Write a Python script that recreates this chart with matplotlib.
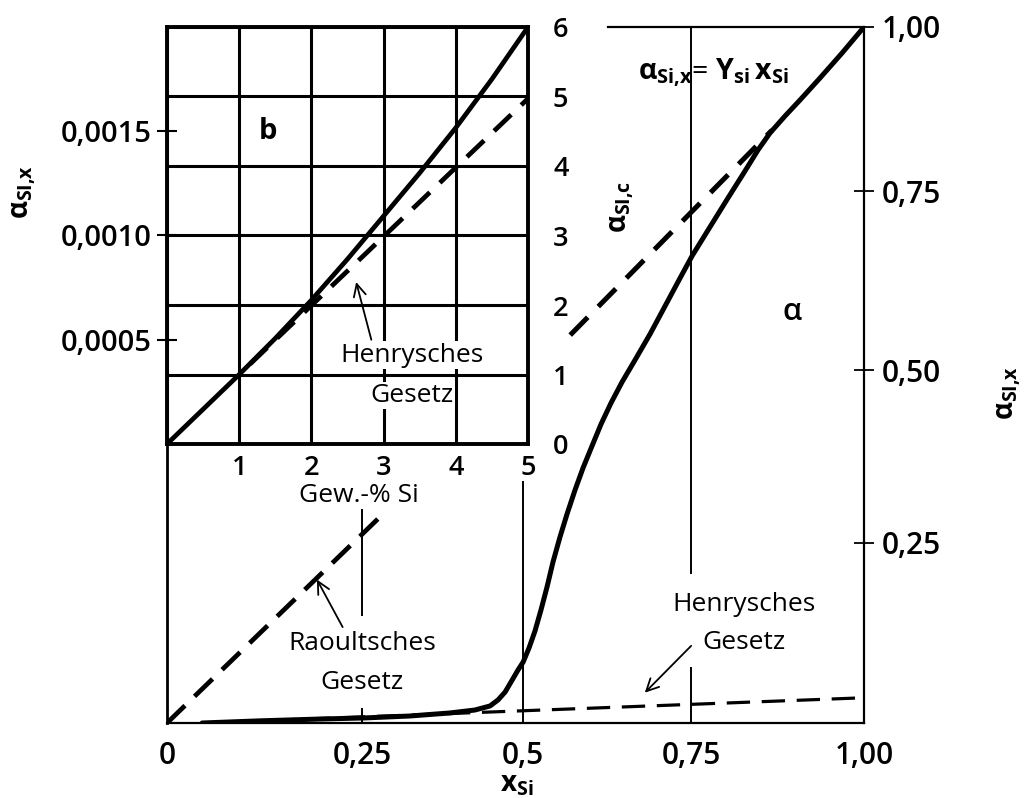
import numpy as np
import matplotlib
matplotlib.use('Agg')
import matplotlib.pyplot as plt

FONT = 'Open Sans'
plt.rcParams['font.family'] = [FONT, 'DejaVu Sans']
plt.rcParams['mathtext.fontset'] = 'custom'
plt.rcParams['mathtext.rm'] = FONT
plt.rcParams['mathtext.it'] = FONT
plt.rcParams['mathtext.bf'] = FONT + ':bold'
plt.rcParams['mathtext.sf'] = FONT
plt.rcParams['lines.scale_dashes'] = False

# ---------------- data ----------------
# main diagram: activity of Si (mole-fraction scale) vs x_Si
x_si = [0.045, 0.119, 0.196, 0.253, 0.324, 0.386, 0.425, 0.4485, 0.461, 0.472,
        0.483, 0.492, 0.500, 0.5087, 0.5176, 0.5265, 0.5355, 0.5444, 0.5548, 0.5653,
        0.5772, 0.5891, 0.6025, 0.616, 0.6308, 0.6472, 0.6665, 0.6889, 0.7112, 0.7336,
        0.7513, 0.7772, 0.8033, 0.8279, 0.8467, 0.864, 0.8858, 0.9075, 0.9364, 0.9682, 1.0]
a_si_x = [0.0, 0.003, 0.0055, 0.007, 0.0097, 0.0139, 0.018, 0.0236, 0.032, 0.043,
          0.0597, 0.0735, 0.0846, 0.104, 0.1276, 0.1567, 0.1886, 0.2233, 0.2583, 0.2916,
          0.3264, 0.3583, 0.3902, 0.422, 0.4525, 0.4828, 0.5142, 0.5505, 0.5896, 0.6288,
          0.6595, 0.700, 0.7406, 0.7808, 0.8128, 0.8386, 0.8645, 0.8889, 0.9224, 0.9603, 1.0]
raoult_x = [0.0, 0.275]
raoult_a = [0.0, 0.285]
henry_x = [0.045, 1.0]
henry_a = [0.0, 0.035]
henry_c_x = [0.570, 0.867]
henry_c_a = [0.549, 0.843]

main_xticks = [0, 0.25, 0.5, 0.75, 1.0]
main_xlabels = ['0', '0,25', '0,5', '0,75', '1,00']
main_yticks = [0.25, 0.5, 0.75, 1.0]
main_ylabels = ['0,25', '0,50', '0,75', '1,00']

# inset b: activity vs Gew.-% Si
gew_si = [0, 0.5, 1, 1.5, 2, 2.5, 3, 3.5, 4, 4.5, 5]
a_si_c = [0, 0.5, 1.0, 1.52, 2.07, 2.66, 3.28, 3.9, 4.55, 5.25, 6.0]
henry_in_x = [1.15, 5.0]
henry_in_a = [1.15, 4.97]

inset_xticks = [0, 1, 2, 3, 4, 5]
inset_xlabels = ['', '1', '2', '3', '4', '5']
inset_cticks = [0, 1, 2, 3, 4, 5, 6]
inset_clabels = ['0', '1', '2', '3', '4', '5', '6']
inset_aticks = [0.0005, 0.0010, 0.0015]
inset_alabels = ['0,0005', '0,0010', '0,0015']

# drawn (hand-made) axis geometry of the original figure
X_TRUE = [0, 0.25, 0.5, 0.75, 1.0]
X_DRAWN = [0, 0.28, 0.511, 0.752, 1.0]
Y_TRUE = [0, 0.25, 0.5, 0.75, 1.0]
Y_DRAWN = [0, 0.259, 0.507, 0.764, 1.0]


def make_funcs(true, drawn):
    t = np.r_[-1.0, true, 2.0]
    d = np.r_[-1.0, drawn, 2.0]
    return (lambda v: np.interp(v, t, d), lambda v: np.interp(v, d, t))


W, H = 1025, 798


def px_axes(l, t, r, b):
    return [l / W, 1 - b / H, (r - l) / W, (b - t) / H]


fig = plt.figure(figsize=(W / 100, H / 100), dpi=100)

# ---------------- main axes ----------------
ax = fig.add_axes(px_axes(167, 27, 864, 723))
ax.set_xscale('function', functions=make_funcs(X_TRUE, X_DRAWN))
ax.set_yscale('function', functions=make_funcs(Y_TRUE, Y_DRAWN))
ax.set_xlim(0, 1)
ax.set_ylim(0, 1)
for s in ['left', 'bottom', 'right']:
    ax.spines[s].set_linewidth(1.6)
ax.spines['left'].set_linewidth(2.0)
ax.spines['top'].set_visible(False)
ax.axhline(1.0, xmin=0.633, xmax=1.0, color='black', lw=1.6, clip_on=False)

ax.set_xticks(main_xticks)
ax.set_xticklabels(main_xlabels)
ax.tick_params(axis='x', length=0, pad=13, labelsize=21.5)
ax.yaxis.tick_right()
ax.set_yticks(main_yticks)
ax.set_yticklabels(main_ylabels)
ax.tick_params(axis='y', direction='inout', length=14, width=1.3, pad=6, labelsize=21.5)
for lab in ax.get_xticklabels() + ax.get_yticklabels():
    lab.set_fontweight('semibold')

vl = dict(color='black', lw=1.4)
ax.axvline(0.75, ymin=0.0, ymax=0.079, **vl)
ax.axvline(0.75, ymin=0.2155, ymax=1.0, **vl)
ax.axvline(0.5, ymin=0.0, ymax=0.346, **vl)
ax.axvline(0.25, ymin=0.0, ymax=0.020, **vl)
ax.axvline(0.25, ymin=0.155, ymax=0.306, **vl)

ax.plot(x_si, a_si_x, color='black', lw=3.6, solid_capstyle='round', solid_joinstyle='round')
ax.plot(raoult_x, raoult_a, color='black', lw=3.4, dashes=(18, 9.6))
ax.plot(henry_x, henry_a, color='black', lw=2.3, dashes=(16.8, 8.4))
ax.plot(henry_c_x, henry_c_a, color='black', lw=3.6, dashes=(18, 10.8))

txt = dict(ha='center', va='center', fontsize=19)
ax.text(0.25, 0.110, 'Raoultsches', **txt)
ax.text(0.25, 0.0555, 'Gesetz', **txt)
ax.text(0.827, 0.165, 'Henrysches', **txt)
ax.text(0.827, 0.112, 'Gesetz', **txt)
arr = dict(arrowstyle='->', lw=1.3, color='black', mutation_scale=22, shrinkA=0, shrinkB=0)
ax.annotate('', xy=(0.192, 0.199), xytext=(0.225, 0.133), arrowprops=arr)
ax.annotate('', xy=(0.681, 0.042), xytext=(0.75, 0.107), arrowprops=arr)

ax.text(0.783, 0.931, r'$\mathbf{α_{Si{,}x}}$= $\mathbf{Υ_{si}\,x_{Si}}$',
        ha='center', va='center', fontsize=20.5)
ax.text(0.648, 0.728, r'$\mathbf{α_{SI{,}c}}$', rotation=90, ha='center', va='center', fontsize=20)
ax.text(0.896, 0.581, 'α', ha='center', va='center', fontsize=22, fontweight='semibold')

fig.text(25 / W, 1 - 192 / H, r'$\mathbf{α_{SI{,}x}}$', rotation=90, ha='center', va='center', fontsize=20)
fig.text(1010 / W, 1 - 393 / H, r'$\mathbf{α_{SI{,}x}}$', rotation=90, ha='center', va='center', fontsize=20)
fig.text(517 / W, 1 - 784 / H, r'$\mathbf{x_{Si}}$', ha='center', va='center', fontsize=20)

# ---------------- inset b ----------------
ax_in = fig.add_axes(px_axes(167, 27, 528, 444))
ax_in.set_xlim(0, 5)
ax_in.set_ylim(0, 0.002)
for s in ax_in.spines.values():
    s.set_linewidth(2.8)
ax_in.set_xticks(inset_xticks)
ax_in.set_xticklabels(inset_xlabels)
ax_in.tick_params(axis='x', length=0, pad=7, labelsize=19.5)
ax_in.set_yticks(inset_aticks)
ax_in.set_yticklabels(inset_alabels)
ax_in.tick_params(axis='y', direction='inout', length=14, width=1.5, pad=4, labelsize=21)
ax_in.xaxis.grid(True, color='black', lw=2.2)
ax_in.yaxis.grid(False)

ax_c = ax_in.twinx()
ax_c.set_ylim(0, 6)
ax_c.set_yticks(inset_cticks)
ax_c.set_yticklabels(inset_clabels)
ax_c.tick_params(axis='y', length=0, pad=18, labelsize=19.5)
ax_c.yaxis.grid(True, color='black', lw=2.2)
for s in ax_c.spines.values():
    s.set_visible(False)
for lab in ax_in.get_xticklabels() + ax_in.get_yticklabels() + ax_c.get_yticklabels():
    lab.set_fontweight('semibold')

ax_c.plot(gew_si, a_si_c, color='black', lw=3.4, solid_capstyle='round')
ax_c.plot(henry_in_x, henry_in_a, color='black', lw=3.4, dashes=(17, 10))
ax_c.text(1.4, 4.49, 'b', ha='center', va='center', fontsize=21, fontweight='bold')
box = dict(facecolor='white', edgecolor='none', pad=1.0)
ax_c.text(3.39, 1.28, 'Henrysches', ha='center', va='center', fontsize=19, bbox=box)
ax_c.text(3.39, 0.70, 'Gesetz', ha='center', va='center', fontsize=19, bbox=box)
ax_c.annotate('', xy=(2.62, 2.33), xytext=(2.83, 1.5), arrowprops=arr)

fig.text(359 / W, 1 - 495 / H, 'Gew.-% Si', ha='center', va='center', fontsize=19)

fig.savefig('out.png', dpi=100, facecolor='white')
